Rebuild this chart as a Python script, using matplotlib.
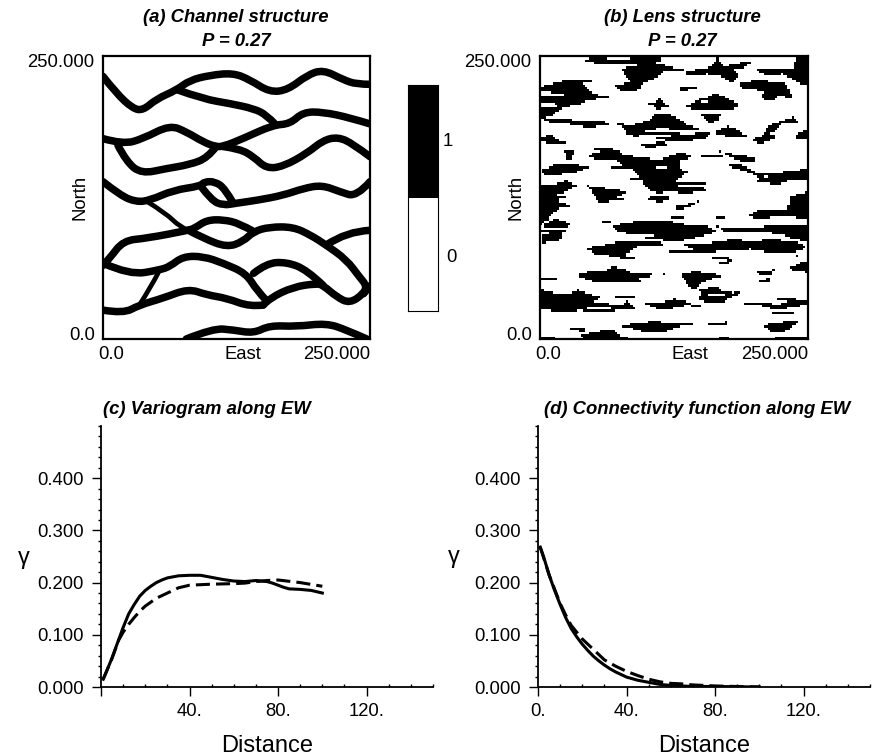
import numpy as np
import matplotlib
matplotlib.use('Agg')
import matplotlib.pyplot as plt
from matplotlib.patches import PathPatch
from matplotlib.path import Path
from matplotlib.ticker import MultipleLocator, NullFormatter

plt.rcParams['font.family'] = ['Liberation Sans', 'DejaVu Sans']

W, H = 872, 756

# channel centre lines (east, north)
channels = [
    [(0,232),(12.5,217),(28,203.5),(37.5,202),(50,212),(69,220),(81,228.5),(100,233),(122,235),(137.5,229),(156,218),(173,220),(191,233),(206,238),(225,229),(237.5,225),(250,225)],
    [(70,220),(94,212),(119,208),(141,203.5),(153,198),(161,190)],
    [(0,177),(19,172),(37.5,177),(62.5,189),(78,183),(94,174),(105,170),(112.5,170),(131,177),(159,189),(175,190),(187.5,200.5),(206,200.5),(231,195.5),(250,190)],
    [(14,171),(22,156.5),(36,146),(59,150.5),(81,154),(98,160),(106,170)],
    [(112.5,170),(128,168),(141,161),(153,150.5),(169,152.5),(191,164),(206,175.5),(220,178.5),(234,172.5),(250,161)],
    [(0,139),(16,127),(31,121),(44,122.5),(66,131.5),(91,135),(95,139),(105,139),(114,133),(122,120)],
    [(92,134.5),(101.5,122.5),(112.5,118),(125,120),(144,122.5),(169,127),(187.5,133),(205,136),(222,130),(237.5,125.5),(250,139)],
    [(0,65),(6,71),(19,87),(41,89),(80,96),(86,98),(97,105),(112.5,105.5),(128,102),(141,95)],
    [(80,96),(94,89),(116,81),(131,86),(141,95),(156,99),(178,99),(194,92),(209,83),(228,70),(240,55),(247,47),(244,40),(231,31.5),(219,37),(206,47.5),(200,49),(178,46),(156,36),(150,30)],
    [(0,67),(25,56.5),(53,61),(62.5,64),(75,73),(94,73),(112.5,67),(134,58),(144,43),(153,34)],
    [(141,58),(153,67),(172,68),(191,61),(206,47.5)],
    [(0,25.5),(19,22.5),(34,30),(56,36),(80,44.5),(97,39),(116,36),(137.5,28.5),(150,30)],
    [(78,0),(103,9.5),(122,8),(141,5),(156,12),(181,11),(209,14),(228,8),(247,0)],
    [(209,83),(228,95),(250,96)],
    [(244,40),(250,47)],
]
thin_channels = [
    [(42,121),(59,111),(72,99),(80,96)],
    [(52,59),(45,46),(34,30)],
]

# lens outlines (east, north)
lenses = [
    [(39,246),(53,248),(71,246),(112,249),(113,244),(96,241),(71,241),(53,242)],
    [(76,238),(90,241),(112,243),(118,240),(130,238),(115,235),(110,231),(98,226),(92,222),(96,220),(85,218),(74,219),(70,224),(84,226),(78,232)],
    [(0,222),(15,226),(32,229),(40,226),(46,218),(58,213),(60,212),(44,210),(36,206),(22,204),(10,196),(0,193)],
    [(136,236),(150,238),(160,240),(165,247),(172,240),(185,243),(198,245),(188,238),(180,237),(185,232),(178,226),(168,231),(155,233),(137,232)],
    [(198,239),(215,238),(235,238),(238,248),(250,249),(250,222),(240,226),(225,233),(210,231)],
    [(186,226),(205,228),(220,226),(228,225),(235,212),(222,214),(214,209),(205,212),(208,218),(187,221)],
    [(129,221),(146,223),(145,220),(131,218)],
    [(135,205),(145,210),(155,213),(163,216),(175,212),(187,206),(180,203),(150,202),(140,203)],
    [(96,208),(108,209),(112,212),(114,209),(120,205),(113,204),(110,201),(105,205)],
    [(4,193),(20,195),(35,192),(60,193),(60,188),(45,186),(28,189),(10,190)],
    [(70,190),(85,188),(100,192),(108,198),(118,199),(125,196),(138,188),(149,185),(130,183),(115,186),(100,184),(90,178),(80,180),(78,186)],
    [(150,198),(168,197),(165,192),(158,190),(155,192)],
    [(163,184),(175,187),(185,184),(195,176),(206,178),(212,188),(235,195),(240,191),(225,189),(215,181),(220,178),(212,174),(205,172),(192,178),(180,178),(164,180)],
    [(236,178),(243,183),(250,185),(250,176),(240,175)],
    [(108,177),(130,180),(158,182),(155,177),(135,174),(115,175)],
    [(0,178),(10,180),(14,177),(26,172),(12,172),(0,174)],
    [(93,171),(115,174),(118,170),(100,168)],
    [(167,165),(185,162),(201,160),(200,156),(185,157),(175,161)],
    [(174,155),(185,154),(200,147),(214,145),(205,142),(190,148),(178,151)],
    [(198,140),(210,142),(218,147),(235,146),(250,152),(250,140),(232,140),(222,136),(205,138)],
    [(20,166),(34,167),(30,160),(28,157),(24,158),(24,162)],
    [(44,162),(60,166),(72,167),(78,162),(110,158),(128,164),(132,165),(143,160),(130,157),(130,150),(138,147),(130,142),(125,138),(128,135),(150,134),(155,131),(135,128),(120,130),(110,128),(100,132),(95,140),(85,150),(78,152),(70,158),(60,158),(52,158)],
    [(0,148),(15,154),(28,155),(40,152),(48,152),(35,147),(20,145),(5,144)],
    [(0,135),(10,135),(25,140),(35,135),(20,128),(12,128),(25,125),(15,122),(29,117),(18,115),(8,108),(8,105),(0,100)],
    [(45,135),(60,133),(72,132),(81,129),(72,125),(80,122),(65,121),(55,120),(50,127)],
    [(102,125),(120,126),(118,122),(110,120)],
    [(125,118),(135,118),(149,122),(140,117),(128,113)],
    [(192,108),(205,114),(230,113),(232,125),(240,128),(250,130),(250,106),(225,108),(205,106)],
    [(1,100),(15,106),(25,103),(31,100),(20,98),(5,98)],
    [(1,92),(15,94),(25,92),(15,90),(25,88),(10,86),(1,84)],
    [(67,100),(85,103),(120,104),(135,101),(155,100),(165,95),(150,90),(130,86),(115,86),(105,92),(85,92),(72,95)],
    [(165,99),(190,97),(215,97),(225,98),(250,98),(250,86),(235,88),(225,92),(205,94),(190,93),(170,95)],
    [(133,83),(160,85),(180,88),(195,86),(215,88),(240,85),(248,80),(235,76),(215,76),(195,79),(175,78),(155,76),(145,78)],
    [(43,80),(60,83),(75,86),(85,85),(110,86),(115,83),(90,81),(80,75),(70,72),(50,75)],
    [(68,73),(80,73),(88,71),(76,70),(70,72)],
    [(31,56),(48,60),(60,60),(68,64),(78,62),(92,56),(115,57),(95,54),(80,50),(70,49),(50,50),(40,54)],
    [(0,54),(17,54),(17,52),(0,52)],
    [(131,57),(145,60),(155,58),(173,56),(160,53),(150,50),(145,43),(138,46),(135,52)],
    [(146,44),(165,46),(170,42),(186,40),(175,36),(172,32),(155,31),(148,35),(150,40)],
    [(200,60),(217,61),(215,56),(205,56)],
    [(203,52),(215,54),(214,51),(205,50)],
    [(166,67),(180,71),(176,66),(170,66)],
    [(228,62),(240,66),(250,70),(250,58),(240,60)],
    [(235,74),(240,74),(240,72)],
    [(0,44),(20,40),(35,43),(45,40),(57,37),(50,33),(65,31),(75,29),(82,34),(90,26),(80,26),(65,27),(45,27),(30,24),(10,25),(0,27)],
    [(98,31),(115,33),(125,35),(143,32),(130,28),(115,25),(105,28)],
    [(190,32),(208,33),(220,30),(235,35),(250,33),(250,30),(235,28),(220,25),(210,28)],
    [(72,12),(95,14),(108,17),(118,13),(138,14),(125,9),(115,6),(100,5),(90,8)],
    [(155,13),(170,14),(175,18),(175,13),(160,12)],
    [(205,12),(220,14),(230,16),(240,15),(233,10),(225,5),(215,6),(210,10)],
    [(37,4),(55,6),(70,8),(75,3),(85,0),(42,0)],
    [(0,2),(15,2),(15,0),(0,0)],
    [(163,0),(170,3),(180,0)],
    [(215,0),(250,0),(250,2),(220,2)],
    [(28,9),(42,10),(42,6),(35,7)],
]
# thin streaks around the lenses (north, east from, east to)
lens_streaks = [
    (167,50,68),(151,67,82),(140,84,96),(136,125,155),(123,101,121),(106,164,173),
    (106,122,135),(102,59,67),(89,99,115),(96,177,192),(98,208,248),(94,1,25),
    (87,3,17),(57,84,105),(40,180,186),(31,190,214),(23,216,236),(34,220,239),
    (6.5,56,68),(12,130,143),(227,30,48),(212,46,64),(188,56,64),(237,118,135),
    (232,140,150),(180,85,130),(160,150,170),(146,226,240),(70,160,176),(36,70,88),
    (92,125,160),(76,120,150),(50,60,95),(25,40,70),(29,140,150),
]
# white gaps inside the lenses
lens_holes = [
    [(0,218),(20,216),(26,214),(18,213),(0,214)],
    [(0,207),(14,207),(17,204),(6,204),(0,203)],
    [(149,210),(157,210),(157,207),(149,207)],
    [(107,152),(119,152),(119,149),(107,149)],
    [(155,40),(173,40),(173,37),(155,37)],
    [(12,41),(31,41),(31,39),(12,39)],
]

lag_c = [1, 3, 5, 7.5, 10, 12.5, 15, 17.5, 20, 22.5, 25, 27.5, 30, 35, 40, 45, 50, 55, 60, 65, 70, 75, 77.5, 80, 82.5, 85, 90, 95, 100]
gamma_c_solid = [.015, .035, .056, .085, .114, .14, .158, .174, .185, .193, .2, .205, .209, .213, .214, .214, .21, .206, .203, .202, .204, .202, .199, .195, .191, .188, .187, .185, .18]
lag_c_dash = [1, 5, 8, 10, 12.5, 15, 17.5, 20, 25, 30, 35, 40, 50, 60, 65, 70, 75, 80, 90, 100]
gamma_c_dash = [.015, .055, .09, .105, .12, .133, .145, .155, .17, .18, .19, .195, .197, .198, .199, .202, .204, .205, .2, .193]

lag_d = [1, 2.5, 5, 7.5, 10, 12.5, 15, 17.5, 20, 22.5, 25, 27.5, 30, 32.5, 35, 37.5, 40, 45, 50, 55, 60, 70, 80, 100]
gamma_d_solid = [.268, .25, .215, .185, .158, .133, .112, .096, .082, .07, .059, .05, .042, .035, .029, .024, .019, .013, .009, .005, .003, .001, .001, 0]
lag_d_dash = [1, 5, 10, 12.5, 15, 17.5, 20, 25, 30, 35, 40, 45, 50, 55, 60, 65, 70, 80, 90, 100]
gamma_d_dash = [.268, .215, .16, .138, .118, .105, .092, .072, .052, .04, .03, .022, .015, .01, .007, .006, .004, .002, .001, 0]

y_ticks = [0, .1, .2, .3, .4]
y_labels = ['0.000', '0.100', '0.200', '0.300', '0.400']


def make_axes(fig, left, top, right, bottom):
    return fig.add_axes([left / W, 1 - bottom / H, (right - left) / W, (bottom - top) / H])


def px_text(fig, x, y, s, **kw):
    fig.text(x / W, 1 - y / H, s, ha='center', va='center', **kw)


def map_axes(ax, east_at):
    for s in ax.spines.values():
        s.set_linewidth(1.6)
    ax.set_xticks([8, east_at, 250])
    ax.set_xticklabels(['0.0', 'East', '250.000'], fontsize=13.3)
    ax.set_yticks([4.5, 246])
    ax.set_yticklabels(['0.0', '250.000'], fontsize=13.3)
    ax.tick_params(length=0)
    ax.tick_params(axis='y', pad=6)
    ax.tick_params(axis='x', pad=5)
    ax.get_xticklabels()[2].set_ha('right')
    ax.set_ylabel('North', fontsize=13.3)
    ax.yaxis.set_label_coords(-.056, .5)
    ax.set_xlim(0, 250)
    ax.set_ylim(0, 250)


def curve_axes(ax, first_label):
    ax.set_xlim(0, 150)
    ax.set_ylim(0, .5)
    ax.spines['top'].set_visible(False)
    ax.spines['right'].set_visible(False)
    ax.spines['left'].set_linewidth(1.3)
    ax.spines['bottom'].set_linewidth(1.3)
    ax.set_xticks([0, 40, 80, 120])
    ax.set_xticklabels([first_label, '40.', '80.', '120.'], fontsize=13.3)
    ax.set_yticks(y_ticks)
    ax.set_yticklabels(y_labels, fontsize=13.3)
    ax.xaxis.set_minor_locator(MultipleLocator(10))
    ax.yaxis.set_minor_locator(MultipleLocator(.02))
    ax.xaxis.set_minor_formatter(NullFormatter())
    ax.tick_params(axis='y', which='major', length=6.2, width=1, pad=6)
    ax.tick_params(axis='x', which='major', length=6.2, width=1, pad=5)
    ax.tick_params(axis='x', which='minor', direction='in', length=2.5, width=1)
    ax.tick_params(axis='y', which='minor', direction='out', length=2.5, width=1)
    ax.set_xlabel('Distance', fontsize=17, labelpad=11)


def smooth_path(points):
    # quadratic segments between midpoints, the read points are the controls
    pts = np.array(points, dtype=float)
    verts = [pts[0]]
    codes = [Path.MOVETO]
    for i in range(1, len(pts) - 1):
        end = pts[i + 1] if i == len(pts) - 2 else (pts[i] + pts[i + 1]) / 2
        verts += [pts[i], end]
        codes += [Path.CURVE3, Path.CURVE3]
    if len(pts) == 2:
        verts.append(pts[1])
        codes.append(Path.LINETO)
    return Path(verts, codes)


def lens_grid():
    # coarse cells like the simulation grid of the original
    n = 125
    size = 250 / n
    cells = (np.arange(n) + .5) * size
    ee, nn = np.meshgrid(cells, cells)
    xy = np.column_stack([ee.ravel(), nn.ravel()])
    grid = np.zeros(n * n, dtype=bool)
    for p in lenses:
        grid |= Path(p + [p[0]]).contains_points(xy)
    grid = grid.reshape(n, n)
    for north, e0, e1 in lens_streaks:
        grid[int(north / size), int(e0 / size):int(e1 / size)] = True
    grid = grid.ravel()
    for p in lens_holes:
        grid &= ~Path(p + [p[0]]).contains_points(xy)
    return grid.reshape(n, n)


fig = plt.figure(figsize=(W / 100, H / 100), dpi=100)

title_kw = dict(fontsize=13.3, fontweight='bold', style='italic')

# (a) channels
ax_a = make_axes(fig, 103, 56, 370, 339)
map_axes(ax_a, 131)
for ch in channels:
    ax_a.add_patch(PathPatch(smooth_path(ch), fc='none', ec='k', lw=5.4, capstyle='round', joinstyle='round'))
for ch in thin_channels:
    ax_a.add_patch(PathPatch(smooth_path(ch), fc='none', ec='k', lw=3.4, capstyle='round', joinstyle='round'))
px_text(fig, 236, 17, '(a) Channel structure', **title_kw)
px_text(fig, 236, 41, 'P = 0.27', **title_kw)

# (b) lenses
ax_b = make_axes(fig, 540, 56, 808, 339)
ax_b.imshow(lens_grid(), cmap='gray_r', origin='lower', extent=[0, 250, 0, 250], aspect='auto', interpolation='nearest')
map_axes(ax_b, 140)
px_text(fig, 682, 17, '(b) Lens structure', **title_kw)
px_text(fig, 682, 41, 'P = 0.27', **title_kw)

# colour bar
ax_bar = make_axes(fig, 408, 85, 438, 311)
ax_bar.imshow([[1], [0]], cmap='gray_r', aspect='auto', extent=[0, 1, -.5, 1.5])
ax_bar.set_xticks([])
ax_bar.set_yticks([])
ax_bar.set_ylim(-.5, 1.5)
px_text(fig, 448, 141, '1', fontsize=13.3)
px_text(fig, 451, 257, '0', fontsize=13.3)

# (c) variogram
ax_c = make_axes(fig, 101, 426, 433, 687)
curve_axes(ax_c, '')
ax_c.plot(lag_c, gamma_c_solid, color='k', lw=2.2)
ax_c.plot(lag_c_dash, gamma_c_dash, color='k', lw=2.2, dashes=(4.6, 2))
px_text(fig, 207, 409, '(c) Variogram along EW', **title_kw)
px_text(fig, 24, 558, '\u03b3', fontsize=17)

# (d) connectivity
ax_d = make_axes(fig, 538, 426, 870, 687)
curve_axes(ax_d, '0.')
ax_d.plot(lag_d, gamma_d_solid, color='k', lw=2.2)
ax_d.plot(lag_d_dash, gamma_d_dash, color='k', lw=2.2, dashes=(4.6, 2))
px_text(fig, 697, 409, '(d) Connectivity function along EW', **title_kw)
px_text(fig, 454, 557, '\u03b3', fontsize=17)

fig.savefig('out.png', dpi=100)
